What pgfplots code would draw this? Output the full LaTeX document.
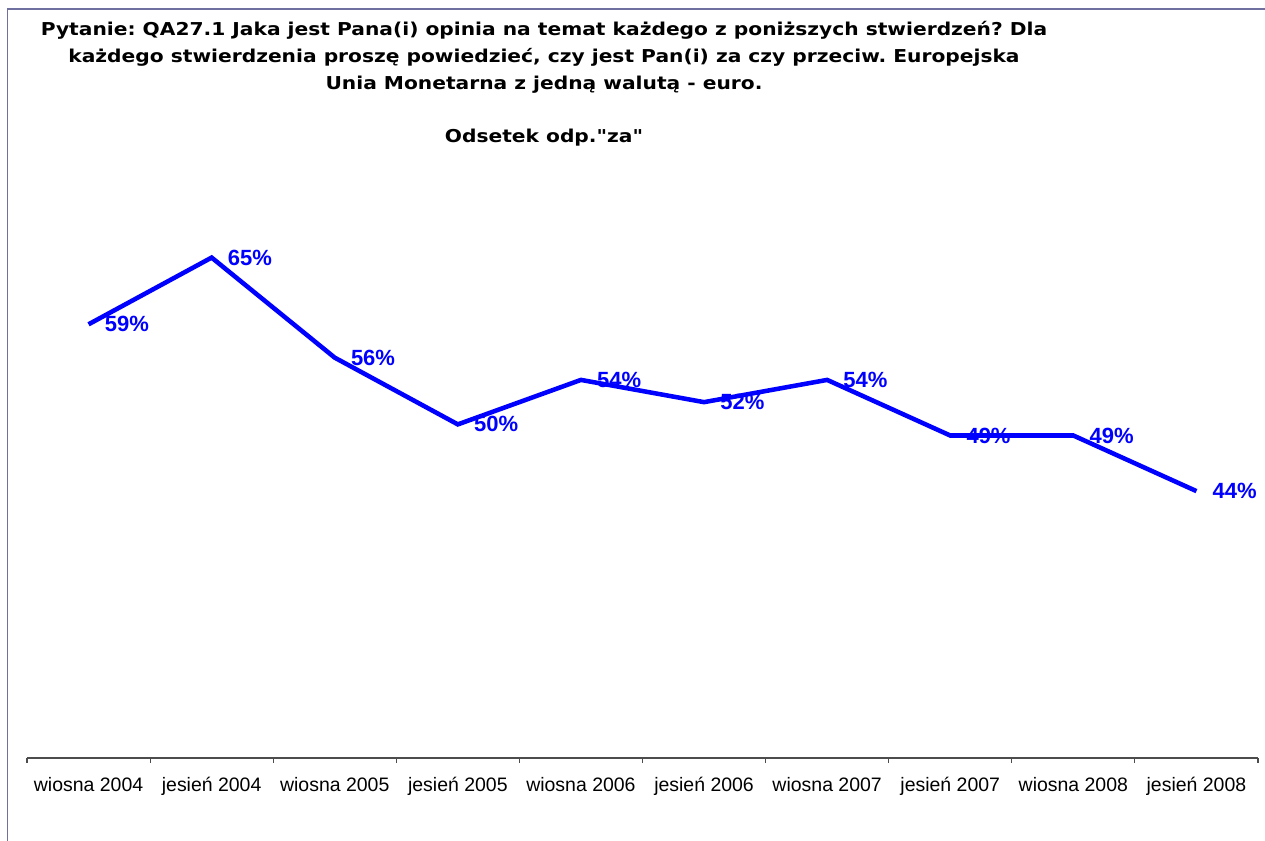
\documentclass[border=0pt]{standalone}
\usepackage{pgfplots}
\pgfplotsset{compat=1.18}
\usepackage{fontspec}
\setmainfont{Liberation Sans}
\newfontfamily\titlefont{DejaVu Sans}[FakeStretch=1.14]
\definecolor{framec}{RGB}{112,112,160}
\definecolor{lineblue}{RGB}{0,0,255}
\frenchspacing
\begin{document}
\begin{tikzpicture}
\useasboundingbox (0,0) rectangle (948.75pt,630.75pt);
\draw[framec, line width=1.2pt] (5.6pt,0) -- (5.6pt,624pt) -- (948.75pt,624pt);
\begin{axis}[
  at={(20.25pt,62.25pt)}, anchor=south west,
  scale only axis, width=923.25pt, height=417pt,
  xmin=-0.5, xmax=9.5, ymin=20, ymax=70,
  hide y axis,
  axis x line*=bottom,
  axis line style={-, black!70, line width=0.8pt},
  xtick={0,...,9},
  xticklabels={wiosna 2004,jesień 2004,wiosna 2005,jesień 2005,wiosna 2006,jesień 2006,wiosna 2007,jesień 2007,wiosna 2008,jesień 2008},
  major tick length=0pt,
  minor xtick={-0.5,0.5,...,9.5},
  minor tick length=3.75pt,
  xtick align=outside,
  minor tick style={black!70, line width=0.8pt},
  xticklabel style={font=\fontsize{14.6pt}{17pt}\selectfont, anchor=base, yshift=-25.5pt},
  /pgf/number format/assume math mode=true,
  clip=false,
]
\addplot[color=lineblue, line width=3.4pt,
  nodes near coords={\pgfmathprintnumber{\pgfplotspointmeta}\%},
  every node near coord/.append style={anchor=west, inner sep=0pt, xshift=10.5pt, font=\bfseries\fontsize{16.5pt}{18pt}\selectfont, text=lineblue},
] coordinates {
(0,59) (1,65) (2,56) (3,50) (4,54) (5,52) (6,54) (7,49) (8,49) (9,44)
};
\end{axis}
\tikzset{ttl/.style={font=\titlefont\bfseries\fontsize{13.3pt}{16pt}\selectfont}}
\node[ttl] at (408pt,608.25pt) {Pytanie: QA27.1 Jaka jest Pana(i) opinia na temat każdego z poniższych stwierdzeń? Dla};
\node[ttl] at (408pt,588pt) {każdego stwierdzenia proszę powiedzieć, czy jest Pan(i) za czy przeciw. Europejska};
\node[ttl] at (408pt,567pt) {Unia Monetarna z jedną walutą - euro.};
\node[ttl] at (408pt,527.25pt) {Odsetek odp."za"};
\end{tikzpicture}
\end{document}
